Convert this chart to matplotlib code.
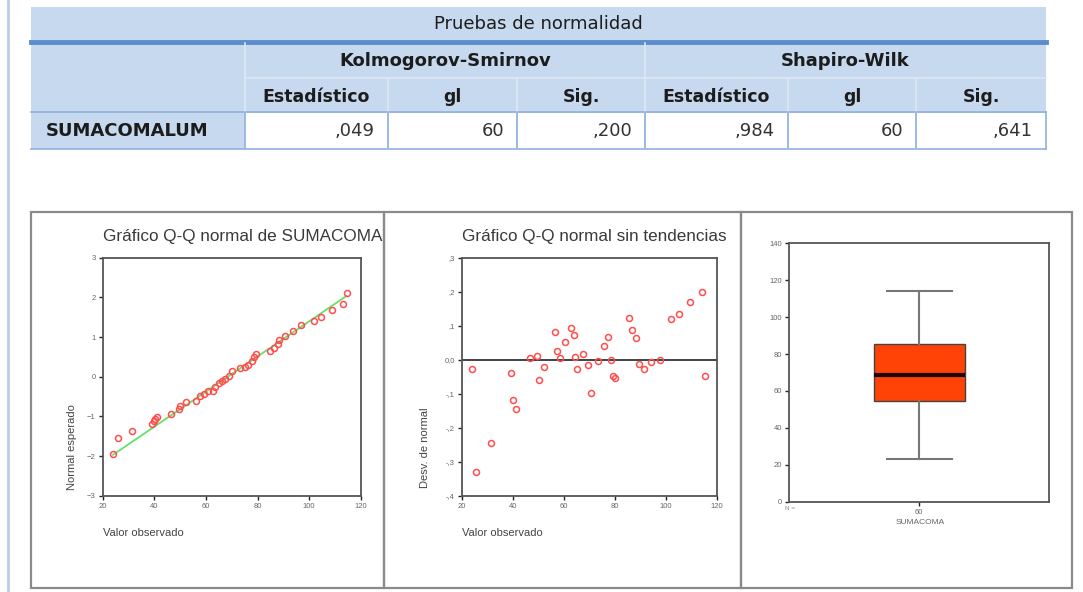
# Pruebas de normalidad: SPSS-style table + Q-Q, detrended Q-Q and boxplot
import matplotlib
matplotlib.use("Agg")
import matplotlib.pyplot as plt
from matplotlib.patches import Rectangle
from matplotlib.transforms import Bbox, TransformedBbox

W, H = 1083, 592

# --------------------------
# Data
# --------------------------
table_title = "Pruebas de normalidad"
test_names = ["Kolmogorov-Smirnov", "Shapiro-Wilk"]
sub_headers = ["Estadístico", "gl", "Sig.", "Estadístico", "gl", "Sig."]
row_label = "SUMACOMALUM"
row_values = [",049", "60", ",200", ",984", "60", ",641"]

# Q-Q normal plot (observed value, expected normal)
qq_obs = [23.8, 25.8, 31.5, 39.2, 39.9, 40.4, 40.9, 46.3, 49.5, 50.1, 52.4,
          56.3, 57.8, 59.1, 61.0, 62.7, 63.6, 64.9, 66.2, 67.4, 69.1, 70.0,
          73.2, 75.1, 76.4, 77.7, 78.7, 79.6, 84.7, 86.5, 87.8, 88.5, 90.8,
          93.6, 96.8, 102.0, 104.6, 108.8, 113.2, 114.5]
qq_exp = [-1.94, -1.54, -1.37, -1.19, -1.11, -1.06, -1.02, -0.94, -0.81, -0.73,
          -0.65, -0.60, -0.48, -0.44, -0.37, -0.37, -0.27, -0.17, -0.12, -0.06,
          0.03, 0.15, 0.22, 0.25, 0.30, 0.40, 0.49, 0.57, 0.65, 0.72, 0.82,
          0.92, 1.03, 1.16, 1.31, 1.41, 1.51, 1.68, 1.84, 2.11]
ref_mean, ref_sd = 68.5, 22.6
ref_range = [24.0, 114.5]

# Detrended Q-Q plot (observed value, deviation from normal)
det_obs = [23.9, 25.6, 31.5, 39.4, 40.1, 41.4, 46.6, 49.6, 50.5, 52.2, 56.4,
           57.5, 58.5, 60.6, 63.0, 64.0, 64.3, 65.3, 67.6, 69.5, 70.6, 73.5,
           75.7, 77.4, 78.5, 79.4, 80.3, 85.5, 86.6, 88.5, 89.5, 91.4, 94.4,
           97.7, 102.0, 105.3, 109.5, 114.4, 115.4]
det_dev = [-0.028, -0.330, -0.245, -0.038, -0.120, -0.146, 0.006, 0.011,
           -0.059, -0.022, 0.080, 0.027, 0.006, 0.051, 0.092, 0.072, 0.008,
           -0.028, 0.018, -0.017, -0.097, -0.004, 0.041, 0.067, -0.002,
           -0.049, -0.053, 0.122, 0.088, 0.065, -0.014, -0.026, -0.006,
           -0.002, 0.120, 0.135, 0.170, 0.198, -0.049]

# Boxplot summary
box_stats = dict(whislo=23.0, q1=54.5, med=68.7, q3=85.5, whishi=114.0)
box_n = 60
box_label = "SUMACOMA"

# --------------------------
# Figure + background layer (pixel coords)
# --------------------------
fig = plt.figure(figsize=(W / 100, H / 100), dpi=100)
bg = fig.add_axes([0, 0, 1, 1])
bg.set_xlim(0, W)
bg.set_ylim(H, 0)
bg.axis("off")

def px(l, t, r, b):
    return [l / W, 1 - b / H, (r - l) / W, (b - t) / H]

HEAD = "#c6d9ee"
LINE = "#8fb2dd"
TXT = "#1c1c1c"

# document margin line
bg.plot([8, 8], [0, H], color="#b8cde8", lw=2)

# table
cols = [31, 245, 388, 517, 645, 788, 916, 1046]
bg.add_patch(Rectangle((31, 7), 1015, 34, fc=HEAD, ec="none"))
bg.add_patch(Rectangle((31, 43), 1015, 70, fc=HEAD, ec="none"))
bg.add_patch(Rectangle((31, 113), 214, 36, fc=HEAD, ec="none"))
bg.add_patch(Rectangle((245, 113), 801, 36, fc="white", ec="none"))
bg.plot([31, 1046], [42, 42], color="#5b8ccc", lw=3.5)
bg.plot([245, 1046], [78, 78], color="#dde8f5", lw=1.2)
bg.plot([31, 1046], [112, 112], color=LINE, lw=1.2)
bg.plot([31, 1046], [149, 149], color=LINE, lw=1.2)
bg.plot([245, 245], [43, 149], color="#dde8f5", lw=1.2)
bg.plot([645, 645], [43, 149], color="#dde8f5", lw=1.2)
for c in cols[2:4] + cols[5:7]:
    bg.plot([c, c], [78, 149], color="#dde8f5", lw=1.2)
for c in cols[1:]:
    bg.plot([c, c], [112, 149], color=LINE, lw=1.2)

bg.text(538, 24, table_title, ha="center", va="center", fontsize=13, color=TXT)
bg.text(445, 61, test_names[0], ha="center", va="center", fontsize=13,
        fontweight="bold", color=TXT)
bg.text(845, 61, test_names[1], ha="center", va="center", fontsize=13,
        fontweight="bold", color=TXT)
for i, h in enumerate(sub_headers):
    bg.text((cols[i + 1] + cols[i + 2]) / 2, 97, h, ha="center", va="center",
            fontsize=12.5, fontweight="bold", color=TXT)
bg.text(46, 131, row_label, ha="left", va="center", fontsize=13,
        fontweight="bold", color=TXT)
for i, v in enumerate(row_values):
    bg.text(cols[i + 2] - 13, 131, v, ha="right", va="center", fontsize=13,
            color="#333333")

# chart panels frame
for l, r in [(31, 384), (384, 741), (741, 1072)]:
    bg.add_patch(Rectangle((l, 212), r - l, 376, fc="none", ec="#8a8a8a", lw=1.6))

SANS = ["Liberation Sans", "DejaVu Sans"]
GREY = "#444444"

t1 = bg.text(103, 236, "Gráfico Q-Q normal de SUMACOMALUM", ha="left", va="center",
             fontsize=12.3, family=SANS, color="#3a3a3a", clip_on=True)
t1.set_clip_box(TransformedBbox(Bbox.from_extents(31, 0, 383, H), bg.transData))
bg.text(462, 236, "Gráfico Q-Q normal sin tendencias", ha="left", va="center",
        fontsize=12.3, family=SANS, color="#3a3a3a")

def style_axes(ax):
    for s in ax.spines.values():
        s.set_color("#555555")
        s.set_linewidth(1.3)
    ax.tick_params(direction="out", length=3, width=1, colors="#222222",
                   labelsize=5.5, labelcolor="#666666", pad=2)
    for lab in ax.get_xticklabels() + ax.get_yticklabels():
        lab.set_family(SANS)

# --------------------------
# Panel 1: Q-Q normal
# --------------------------
ax1 = fig.add_axes(px(102.7, 257.7, 360.7, 495.7))
ref_y = [(x - ref_mean) / ref_sd for x in ref_range]
ax1.plot(ref_range, ref_y, color="#66e066", lw=1.3)
ax1.plot(qq_obs, qq_exp, "o", mfc="none", mec="#ff4d4d", ms=4.3, mew=1.1)
ax1.set_xlim(20, 120)
ax1.set_ylim(-3, 3)
ax1.set_xticks([20, 40, 60, 80, 100, 120])
ax1.set_yticks([-3, -2, -1, 0, 1, 2, 3])
style_axes(ax1)
bg.text(72, 447, "Normal esperado", rotation=90, ha="center", va="center",
        fontsize=8, family=SANS, color=GREY)
bg.text(103, 533, "Valor observado", ha="left", va="center", fontsize=8,
        family=SANS, color=GREY)

# --------------------------
# Panel 2: detrended Q-Q
# --------------------------
ax2 = fig.add_axes(px(461.7, 257.7, 716.7, 495.7))
ax2.axhline(0, color="#333333", lw=1.3)
ax2.plot(det_obs, det_dev, "o", mfc="none", mec="#ff4d4d", ms=4.3, mew=1.1)
ax2.set_xlim(20, 120)
ax2.set_ylim(-0.4, 0.3)
ax2.set_xticks([20, 40, 60, 80, 100, 120])
ax2.set_yticks([-0.4, -0.3, -0.2, -0.1, 0.0, 0.1, 0.2, 0.3])
ax2.set_yticklabels(["-,4", "-,3", "-,2", "-,1", "0,0", ",1", ",2", ",3"])
style_axes(ax2)
bg.text(425, 448, "Desv. de normal", rotation=90, ha="center", va="center",
        fontsize=8, family=SANS, color=GREY)
bg.text(462, 533, "Valor observado", ha="left", va="center", fontsize=8,
        family=SANS, color=GREY)

# --------------------------
# Panel 3: boxplot
# --------------------------
ax3 = fig.add_axes(px(789.3, 243.3, 1049.3, 501.7))
bp = ax3.bxp([dict(box_stats, label=str(box_n))], positions=[1], widths=0.7,
             showfliers=False, patch_artist=True)
for b in bp["boxes"]:
    b.set_facecolor("#ff4205")
    b.set_edgecolor("#444444")
    b.set_linewidth(1)
for m in bp["medians"]:
    m.set_color("#1a0000")
    m.set_linewidth(3)
for w in bp["whiskers"] + bp["caps"]:
    w.set_color("#777777")
    w.set_linewidth(1.5)
for c in bp["caps"]:
    c.set_xdata([1 - 0.25, 1 + 0.25])
ax3.set_xlim(0, 2)
ax3.set_ylim(0, 140)
ax3.set_yticks(range(0, 141, 20))
style_axes(ax3)
bg.text(790, 509, "N =", ha="center", va="center", fontsize=4.5,
        family=SANS, color="#888888")
bg.text(920, 523, box_label, ha="center", va="center", fontsize=6,
        family=SANS, color="#666666")

fig.savefig("out.png", dpi=100)
